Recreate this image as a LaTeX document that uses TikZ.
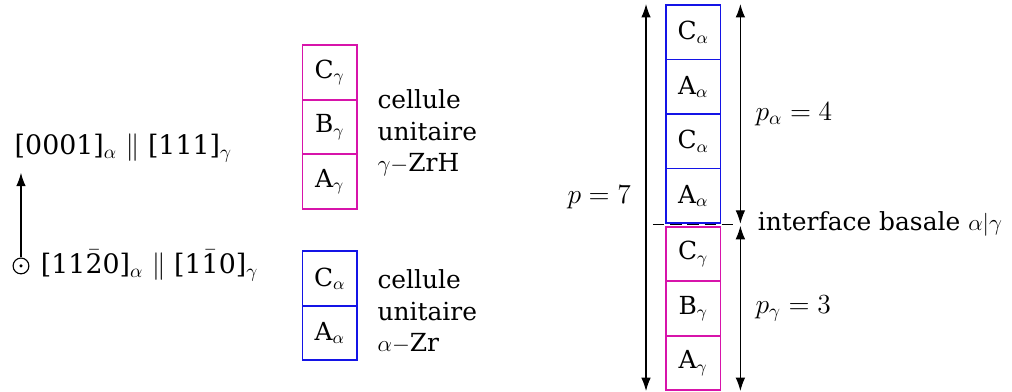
\documentclass[tikz,border=0pt]{standalone}
\usepackage{fontspec}
\setmainfont{DejaVu Serif}
\usetikzlibrary{arrows.meta,positioning}
\definecolor{gammacol}{RGB}{215,20,170}
\definecolor{alphacol}{RGB}{20,20,230}

\begin{document}
\begin{tikzpicture}[node distance=1cm, >={Latex[length=7pt,width=5pt]}, line width=0.6pt,
  cellg/.style={draw=gammacol, line width=0.9pt, minimum size=1cm, inner sep=0pt, font=\fontsize{13}{15}\selectfont},
  cella/.style={draw=alphacol, line width=0.9pt, minimum size=1cm, inner sep=0pt, font=\fontsize{13}{15}\selectfont},
  lbl/.style={font=\fontsize{13}{16.5}\selectfont},
  mlbl/.style={font=\fontsize{14}{16.8}\selectfont}]
\useasboundingbox (0,0) rectangle (18.57,-7.18);
\node[circle, draw, minimum size=0.29cm, inner sep=0pt] (ez) at (0.385,-4.88) {};
\fill (ez.center) circle (0.9pt);
\coordinate (ey) at (0.385,-3.17);
\draw[->] (ez) -- (ey);
\node[mlbl, anchor=west, inner sep=0pt] (ecax) at (0.26,-2.72) {[0001]$_\alpha$ $\parallel$ [111]$_\gamma$};
\node[mlbl, anchor=west, inner sep=0pt, right=0.2cm of ez] (ebax) {[11$\bar{\mbox{2}}$0]$_\alpha$ $\parallel$ [1$\bar{\mbox{1}}$0]$_\gamma$};
\node[cellg] (ug1) at (6.05,-1.33) {C$_\gamma$};
\node[cellg, below of=ug1] (ug2) {B$_\gamma$};
\node[cellg, below of=ug2] (ug3) {A$_\gamma$};
\node[lbl, align=left, anchor=west] (ugl) at (6.8,-2.44) {cellule\\unitaire\\$\gamma-$ZrH};
\node[cella] (ua1) at (6.05,-5.11) {C$_\alpha$};
\node[cella, below of=ua1] (ua2) {A$_\alpha$};
\node[lbl, align=left, anchor=west] (ual) at (6.8,-5.72) {cellule\\unitaire\\$\alpha-$Zr};
\coordinate (iface) at (12.72,-4.125);
\draw[dash pattern=on 6pt off 3pt] ([xshift=-0.74cm]iface) -- ([xshift=0.74cm]iface);
\node[cella] (ca1) at (12.72,-0.59) {C$_\alpha$};
\node[cella, below of=ca1] (ca2) {A$_\alpha$};
\node[cella, below of=ca2] (ca3) {C$_\alpha$};
\node[cella, below of=ca3] (ca4) {A$_\alpha$};
\node[cellg] (cg1) at (12.72,-4.66) {C$_\gamma$};
\node[cellg, below of=cg1] (cg2) {B$_\gamma$};
\node[cellg, below of=cg2] (cg3) {A$_\gamma$};
\draw[<->] ([xshift=-0.35cm]ca1.north west) -- node[mlbl, left=0.15cm] {$p=7$} ([xshift=-0.35cm]cg3.south west);
\draw[<->] ([xshift=0.35cm]ca1.north east) -- node[mlbl, right=0.15cm] {$p_\alpha=4$} ([xshift=0.35cm]ca4.south east);
\draw[<->] ([xshift=0.35cm]cg1.north east) -- node[mlbl, right=0.15cm] {$p_\gamma=3$} ([xshift=0.35cm]cg3.south east);
\node[lbl, anchor=west] (ifl) at (13.78,-4.11) {interface basale $\alpha|\gamma$};
\end{tikzpicture}
\end{document}
